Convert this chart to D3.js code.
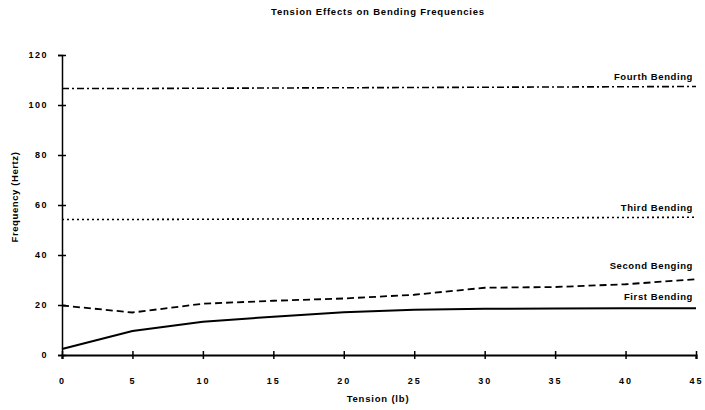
<!DOCTYPE html>
<html>
<head>
<meta charset="utf-8">
<script src="https://d3js.org/d3.v7.min.js"></script>
<style>
  body { margin: 0; background: #fff; }
  text { font-family: "Liberation Sans", Arial, sans-serif; font-weight: bold; fill: #000; }
</style>
</head>
<body>
<div id="chart"></div>
<script>
// tension values (lb)
var tension = [0, 5, 10, 15, 20, 25, 30, 35, 40, 45];

// bending frequencies (Hz)
var firstBending  = [2.4, 9.6, 13.3, 15.3, 17.1, 18.1, 18.5, 18.6, 18.7, 18.7];
var secondBending = [19.8, 17.0, 20.5, 21.7, 22.6, 24.1, 26.9, 27.2, 28.3, 30.3];
var thirdBending  = [54.2, 54.2, 54.3, 54.4, 54.5, 54.6, 54.8, 54.9, 55.0, 55.1];
var fourthBending = [106.6, 106.6, 106.7, 106.8, 106.9, 107.0, 107.1, 107.2, 107.3, 107.4];

var seriesNames = ["First Bending", "Second Benging", "Third Bending", "Fourth Bending"];

var xTicks = [0, 5, 10, 15, 20, 25, 30, 35, 40, 45];
var yTicks = [0, 20, 40, 60, 80, 100, 120];

var W = 705, H = 410;
var margin = { top: 55, right: 9, bottom: 55, left: 62 };

var svg = d3.select("#chart").append("svg")
    .attr("width", W)
    .attr("height", H);

var x = d3.scaleLinear().domain([0, 45]).range([margin.left, W - margin.right]);
var y = d3.scaleLinear().domain([0, 120]).range([H - margin.bottom, margin.top]);

// title
svg.append("text")
    .attr("x", 378).attr("y", 15)
    .attr("text-anchor", "middle")
    .style("font-size", "9.5px")
    .style("letter-spacing", "0.8px")
    .text("Tension Effects on Bending Frequencies");

// y axis - ticks cross the axis line
var yAxis = svg.append("g")
    .attr("transform", "translate(" + x(0) + ",0)")
    .call(d3.axisLeft(y).tickValues(yTicks).tickSize(4).tickPadding(10).tickFormat(d3.format("d")));
yAxis.select(".domain").attr("stroke", "#000").attr("stroke-width", 1.5);
yAxis.selectAll(".tick line").attr("x2", 4).attr("x1", -4).attr("stroke-width", 1.5);
yAxis.selectAll(".tick text")
    .style("font-size", "9px")
    .style("letter-spacing", "1.5px")
    .style("font-family", "'Liberation Sans', Arial, sans-serif")
    .style("font-weight", "bold");

// x axis
var xAxis = svg.append("g")
    .attr("transform", "translate(0," + y(0) + ")")
    .call(d3.axisBottom(x).tickValues(xTicks).tickSize(4).tickPadding(19).tickFormat(d3.format("d")));
xAxis.select(".domain").attr("stroke", "#000").attr("stroke-width", 2.2);
xAxis.selectAll(".tick line").attr("y1", -4).attr("y2", 4).attr("stroke-width", 1.5);
xAxis.selectAll(".tick text")
    .style("font-size", "9px")
    .style("letter-spacing", "2px")
    .style("font-family", "'Liberation Sans', Arial, sans-serif")
    .style("font-weight", "bold");

// axis titles
svg.append("text")
    .attr("x", 378).attr("y", 402)
    .attr("text-anchor", "middle")
    .style("font-size", "9.5px")
    .style("letter-spacing", "0.8px")
    .text("Tension (lb)");

svg.append("text")
    .attr("transform", "translate(18,197) rotate(-90)")
    .attr("text-anchor", "middle")
    .style("font-size", "9.5px")
    .style("letter-spacing", "0.6px")
    .text("Frequency (Hertz)");

// series lines
var line = d3.line()
    .x(function (d, i) { return x(tension[i]); })
    .y(function (d) { return y(d); });

var series = [
    { values: firstBending,  dash: null,        width: 2 },
    { values: secondBending, dash: "7,4",       width: 1.8 },
    { values: thirdBending,  dash: "2,3",       width: 1.6 },
    { values: fourthBending, dash: "7,3,2,3",   width: 1.6 }
];

series.forEach(function (s) {
    svg.append("path")
        .datum(s.values)
        .attr("d", line)
        .attr("fill", "none")
        .attr("stroke", "#000")
        .attr("stroke-width", s.width)
        .attr("stroke-dasharray", s.dash);
});

// labels near the right end of each line
var labelY = [firstBending[9] + 3.5, secondBending[9] + 4, thirdBending[9] + 2.5, fourthBending[9] + 2.5];
seriesNames.forEach(function (name, i) {
    svg.append("text")
        .attr("x", 693)
        .attr("y", y(labelY[i]))
        .attr("text-anchor", "end")
        .style("font-size", "9.5px")
        .style("letter-spacing", "0.6px")
        .text(name);
});
</script>
</body>
</html>
